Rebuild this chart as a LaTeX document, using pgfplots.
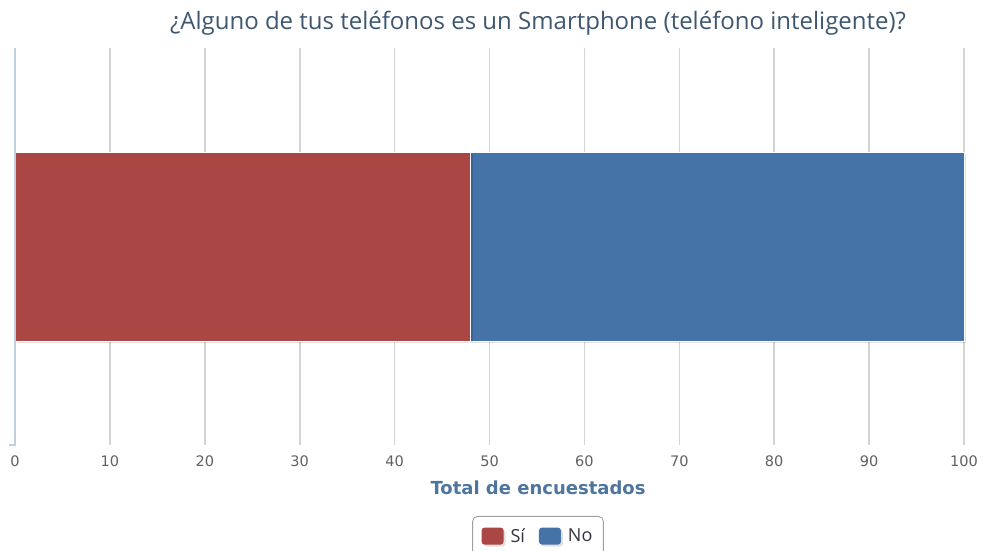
\documentclass[border=0pt]{standalone}
\usepackage{pgfplots}
\pgfplotsset{compat=1.18}
\usepackage{fontspec}
\setmainfont{Open Sans}
\newfontfamily\tickfont{DejaVu Sans}
\definecolor{siRed}{HTML}{AA4643}
\definecolor{noBlue}{HTML}{4572A7}
\definecolor{titleC}{HTML}{3E576F}
\definecolor{tickC}{HTML}{606060}
\definecolor{labC}{HTML}{4D759E}
\definecolor{gridC}{HTML}{D4D4D4}
\definecolor{axisC}{HTML}{C0D0E0}
\definecolor{legC}{HTML}{A0A0A0}
\definecolor{legT}{HTML}{333340}
\begin{document}
\begin{tikzpicture}[x=1pt,y=1pt]
\useasboundingbox (0,0) rectangle (983,550);
\begin{axis}[
  at={(15pt,105pt)}, anchor=south west,
  scale only axis, width=949pt, height=397pt,
  xbar stacked, bar width=189pt,
  xmin=0, xmax=100, ymin=-1, ymax=1,
  xtick={0,10,...,100}, ytick=\empty,
  xmajorgrids, grid style={gridC, line width=1.6pt},
  axis line style={draw=none},
  major tick length=0pt,
  /pgf/number format/assume math mode=true,
  xticklabel style={font=\tickfont\fontsize{14.5}{16}\selectfont, text=tickC, anchor=north, yshift=-7pt},
  legend style={at={(0.5511,-0.1788)}, anchor=north, draw=legC, line width=0.9pt,
    rounded corners=5pt, font=\fontsize{18}{20}\selectfont, text=legT,
    inner xsep=9pt, inner ysep=10pt, cells={inner xsep=0pt},
    /tikz/every odd column/.append style={column sep=5pt},
    /tikz/every even column/.append style={column sep=12pt}},
  legend columns=2,
  legend image code/.code={\fill[#1, draw=none, rounded corners=3pt] (0pt,-8.5pt) rectangle (22pt,8.5pt);},
  clip=false,
]
\addplot[fill=siRed, draw=white, line width=0.8pt,
  preaction={fill=black, opacity=0.12, draw=none, transform canvas={xshift=2pt,yshift=-2pt}}] coordinates {(48,0)};
\addplot[fill=noBlue, draw=white, line width=0.8pt,
  preaction={fill=black, opacity=0.12, draw=none, transform canvas={xshift=2pt,yshift=-2pt}}] coordinates {(52,0)};
\legend{Sí, No}
\end{axis}
\draw[axisC, line width=1.5pt] (15,502) -- (15,105) -- (9,105);
\node[text=titleC, font=\fontsize{24}{27}\selectfont, anchor=base] at (538,520) {¿Alguno de tus teléfonos es un Smartphone (teléfono inteligente)?};
\node[text=labC, font=\tickfont\bfseries\fontsize{18}{20}\selectfont, anchor=base] at (538,56) {Total de encuestados};
\end{tikzpicture}
\end{document}
